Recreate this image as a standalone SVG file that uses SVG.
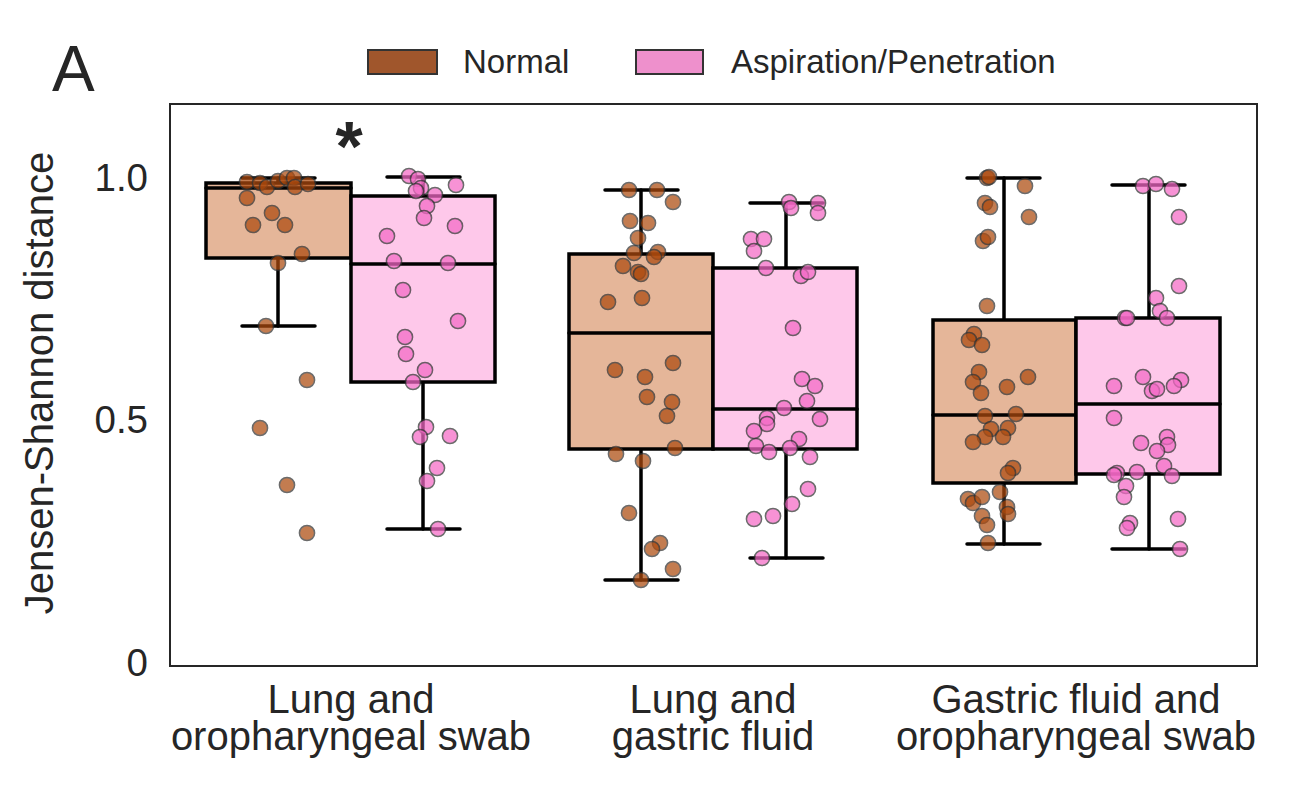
<svg xmlns="http://www.w3.org/2000/svg" width="1300" height="800" viewBox="0 0 1300 800">
<style>
text { font-family: "Liberation Sans", Arial, sans-serif; fill: #262626; }
.tick { font-size: 38.5px; }
.xl { font-size: 40px; text-anchor: middle; }
.leg { font-size: 33px; }
.bn { fill: #e5b699; stroke: #000; stroke-width: 3.5; }
.bp { fill: #fec8ea; stroke: #000; stroke-width: 3.5; }
.ln { stroke: #000; stroke-width: 3.5; stroke-linecap: round; fill: none; }
.dn circle { fill: #ad4a0e; stroke: #333; stroke-width: 1.5; opacity: 0.72; }
.dp circle { fill: #f469c6; stroke: #333; stroke-width: 1.5; opacity: 0.72; }
</style>
<rect x="0" y="0" width="1300" height="800" fill="#fff"/>
<text x="52" y="91" style="font-size:64px">A</text>
<g id="legend">
<rect x="368" y="50" width="69" height="24" fill="#a0562c" stroke="#333" stroke-width="2"/>
<text class="leg" x="463" y="73">Normal</text>
<rect x="636" y="50" width="67" height="24" fill="#ee90cc" stroke="#333" stroke-width="2"/>
<text class="leg" x="731" y="73">Aspiration/Penetration</text>
</g>
<g id="axes">
<rect x="170" y="104" width="1087" height="562" fill="none" stroke="#262626" stroke-width="2"/>
<text class="tick" x="148" y="191" text-anchor="end">1.0</text>
<text class="tick" x="148" y="433" text-anchor="end">0.5</text>
<text class="tick" x="148" y="676" text-anchor="end">0</text>
<text x="53" y="383" style="font-size:40px" text-anchor="middle" transform="rotate(-90 53 383)">Jensen-Shannon distance</text>
<text class="xl" x="351" y="713">Lung and</text>
<text class="xl" x="351" y="750">oropharyngeal swab</text>
<text class="xl" x="713" y="713">Lung and</text>
<text class="xl" x="713" y="750">gastric fluid</text>
<text class="xl" x="1076" y="713">Gastric fluid and</text>
<text class="xl" x="1076" y="750">oropharyngeal swab</text>
<text x="349" y="171" style="font-size:70px;font-weight:bold" text-anchor="middle">*</text>
</g>
<g id="box-g1-normal">
<line class="ln" x1="278" y1="178" x2="278" y2="183"/><line class="ln" x1="242" y1="178" x2="315" y2="178"/>
<line class="ln" x1="278" y1="258" x2="278" y2="326"/><line class="ln" x1="242" y1="326" x2="315" y2="326"/>
<rect class="bn" x="206" y="183" width="145" height="75"/>
<line class="ln" x1="206" y1="188" x2="351" y2="188"/>
</g>
<g id="box-g1-asp">
<line class="ln" x1="423" y1="177" x2="423" y2="196"/><line class="ln" x1="387" y1="177" x2="460" y2="177"/>
<line class="ln" x1="423" y1="382" x2="423" y2="529"/><line class="ln" x1="387" y1="529" x2="460" y2="529"/>
<rect class="bp" x="351" y="196" width="144" height="186"/>
<line class="ln" x1="351" y1="264" x2="495" y2="264"/>
</g>
<g id="box-g2-normal">
<line class="ln" x1="641" y1="190" x2="641" y2="254"/><line class="ln" x1="605" y1="190" x2="678" y2="190"/>
<line class="ln" x1="641" y1="449" x2="641" y2="580"/><line class="ln" x1="605" y1="580" x2="678" y2="580"/>
<rect class="bn" x="569" y="254" width="144" height="195"/>
<line class="ln" x1="569" y1="333" x2="713" y2="333"/>
</g>
<g id="box-g2-asp">
<line class="ln" x1="786" y1="203" x2="786" y2="268"/><line class="ln" x1="750" y1="203" x2="823" y2="203"/>
<line class="ln" x1="786" y1="449" x2="786" y2="558"/><line class="ln" x1="750" y1="558" x2="823" y2="558"/>
<rect class="bp" x="713" y="268" width="144" height="181"/>
<line class="ln" x1="713" y1="409" x2="857" y2="409"/>
</g>
<g id="box-g3-normal">
<line class="ln" x1="1004" y1="178" x2="1004" y2="320"/><line class="ln" x1="967" y1="178" x2="1040" y2="178"/>
<line class="ln" x1="1004" y1="483" x2="1004" y2="544"/><line class="ln" x1="967" y1="544" x2="1040" y2="544"/>
<rect class="bn" x="933" y="320" width="143" height="163"/>
<line class="ln" x1="933" y1="415" x2="1076" y2="415"/>
</g>
<g id="box-g3-asp">
<line class="ln" x1="1149" y1="185" x2="1149" y2="318"/><line class="ln" x1="1112" y1="185" x2="1185" y2="185"/>
<line class="ln" x1="1149" y1="474" x2="1149" y2="549"/><line class="ln" x1="1112" y1="549" x2="1185" y2="549"/>
<rect class="bp" x="1076" y="318" width="144" height="156"/>
<line class="ln" x1="1076" y1="404" x2="1220" y2="404"/>
</g>
<g id="dots-g1-normal" class="dn">
<circle cx="247" cy="182" r="7.6"/><circle cx="260" cy="183" r="7.6"/><circle cx="267" cy="187" r="7.6"/><circle cx="278" cy="181" r="7.6"/><circle cx="287" cy="178" r="7.6"/><circle cx="294" cy="178" r="7.6"/><circle cx="295" cy="187" r="7.6"/><circle cx="308" cy="184" r="7.6"/><circle cx="247" cy="198" r="7.6"/><circle cx="272" cy="213" r="7.6"/><circle cx="253" cy="225" r="7.6"/><circle cx="285" cy="225" r="7.6"/><circle cx="302" cy="254" r="7.6"/><circle cx="278" cy="263" r="7.6"/><circle cx="266" cy="326" r="7.6"/><circle cx="307" cy="380" r="7.6"/><circle cx="260" cy="428" r="7.6"/><circle cx="287" cy="485" r="7.6"/><circle cx="307" cy="533" r="7.6"/>
</g>
<g id="dots-g1-asp" class="dp">
<circle cx="409" cy="176" r="7.6"/><circle cx="418" cy="179" r="7.6"/><circle cx="421" cy="188" r="7.6"/><circle cx="416" cy="191" r="7.6"/><circle cx="456" cy="185" r="7.6"/><circle cx="435" cy="195" r="7.6"/><circle cx="427" cy="206" r="7.6"/><circle cx="424" cy="218" r="7.6"/><circle cx="387" cy="236" r="7.6"/><circle cx="455" cy="226" r="7.6"/><circle cx="394" cy="261" r="7.6"/><circle cx="448" cy="263" r="7.6"/><circle cx="403" cy="290" r="7.6"/><circle cx="458" cy="321" r="7.6"/><circle cx="405" cy="337" r="7.6"/><circle cx="406" cy="354" r="7.6"/><circle cx="425" cy="370" r="7.6"/><circle cx="413" cy="382" r="7.6"/><circle cx="426" cy="427" r="7.6"/><circle cx="420" cy="437" r="7.6"/><circle cx="450" cy="436" r="7.6"/><circle cx="437" cy="468" r="7.6"/><circle cx="427" cy="481" r="7.6"/><circle cx="438" cy="529" r="7.6"/>
</g>
<g id="dots-g2-normal" class="dn">
<circle cx="629" cy="190" r="7.6"/><circle cx="657" cy="190" r="7.6"/><circle cx="673" cy="202" r="7.6"/><circle cx="630" cy="221" r="7.6"/><circle cx="648" cy="223" r="7.6"/><circle cx="638" cy="238" r="7.6"/><circle cx="634" cy="253" r="7.6"/><circle cx="658" cy="252" r="7.6"/><circle cx="654" cy="257" r="7.6"/><circle cx="623" cy="266" r="7.6"/><circle cx="638" cy="272" r="7.6"/><circle cx="641" cy="274" r="7.6"/><circle cx="608" cy="302" r="7.6"/><circle cx="642" cy="298" r="7.6"/><circle cx="615" cy="370" r="7.6"/><circle cx="645" cy="377" r="7.6"/><circle cx="673" cy="363" r="7.6"/><circle cx="647" cy="397" r="7.6"/><circle cx="672" cy="402" r="7.6"/><circle cx="667" cy="416" r="7.6"/><circle cx="675" cy="448" r="7.6"/><circle cx="616" cy="454" r="7.6"/><circle cx="643" cy="461" r="7.6"/><circle cx="629" cy="513" r="7.6"/><circle cx="660" cy="543" r="7.6"/><circle cx="652" cy="549" r="7.6"/><circle cx="673" cy="569" r="7.6"/><circle cx="641" cy="580" r="7.6"/>
</g>
<g id="dots-g2-asp" class="dp">
<circle cx="789" cy="202" r="7.6"/><circle cx="791" cy="208" r="7.6"/><circle cx="818" cy="203" r="7.6"/><circle cx="818" cy="213" r="7.6"/><circle cx="751" cy="239" r="7.6"/><circle cx="764" cy="239" r="7.6"/><circle cx="754" cy="251" r="7.6"/><circle cx="766" cy="268" r="7.6"/><circle cx="801" cy="276" r="7.6"/><circle cx="808" cy="272" r="7.6"/><circle cx="793" cy="328" r="7.6"/><circle cx="802" cy="379" r="7.6"/><circle cx="815" cy="386" r="7.6"/><circle cx="807" cy="401" r="7.6"/><circle cx="784" cy="408" r="7.6"/><circle cx="767" cy="418" r="7.6"/><circle cx="767" cy="424" r="7.6"/><circle cx="820" cy="419" r="7.6"/><circle cx="754" cy="431" r="7.6"/><circle cx="799" cy="439" r="7.6"/><circle cx="756" cy="446" r="7.6"/><circle cx="769" cy="452" r="7.6"/><circle cx="790" cy="448" r="7.6"/><circle cx="810" cy="457" r="7.6"/><circle cx="808" cy="489" r="7.6"/><circle cx="792" cy="504" r="7.6"/><circle cx="773" cy="516" r="7.6"/><circle cx="754" cy="519" r="7.6"/><circle cx="762" cy="558" r="7.6"/>
</g>
<g id="dots-g3-normal" class="dn">
<circle cx="987" cy="178" r="7.6"/><circle cx="989" cy="177" r="7.6"/><circle cx="1025" cy="186" r="7.6"/><circle cx="985" cy="203" r="7.6"/><circle cx="990" cy="207" r="7.6"/><circle cx="1029" cy="217" r="7.6"/><circle cx="983" cy="241" r="7.6"/><circle cx="988" cy="237" r="7.6"/><circle cx="987" cy="306" r="7.6"/><circle cx="974" cy="334" r="7.6"/><circle cx="969" cy="340" r="7.6"/><circle cx="982" cy="345" r="7.6"/><circle cx="979" cy="372" r="7.6"/><circle cx="973" cy="382" r="7.6"/><circle cx="981" cy="393" r="7.6"/><circle cx="1007" cy="387" r="7.6"/><circle cx="1028" cy="377" r="7.6"/><circle cx="985" cy="416" r="7.6"/><circle cx="1016" cy="414" r="7.6"/><circle cx="991" cy="429" r="7.6"/><circle cx="985" cy="437" r="7.6"/><circle cx="973" cy="442" r="7.6"/><circle cx="1008" cy="428" r="7.6"/><circle cx="1003" cy="437" r="7.6"/><circle cx="1013" cy="468" r="7.6"/><circle cx="1008" cy="473" r="7.6"/><circle cx="1000" cy="492" r="7.6"/><circle cx="968" cy="499" r="7.6"/><circle cx="973" cy="503" r="7.6"/><circle cx="982" cy="497" r="7.6"/><circle cx="1007" cy="507" r="7.6"/><circle cx="1008" cy="514" r="7.6"/><circle cx="982" cy="516" r="7.6"/><circle cx="987" cy="525" r="7.6"/><circle cx="988" cy="543" r="7.6"/>
</g>
<g id="dots-g3-asp" class="dp">
<circle cx="1143" cy="186" r="7.6"/><circle cx="1156" cy="184" r="7.6"/><circle cx="1172" cy="189" r="7.6"/><circle cx="1179" cy="217" r="7.6"/><circle cx="1179" cy="286" r="7.6"/><circle cx="1156" cy="298" r="7.6"/><circle cx="1160" cy="311" r="7.6"/><circle cx="1167" cy="318" r="7.6"/><circle cx="1125" cy="318" r="7.6"/><circle cx="1127" cy="318" r="7.6"/><circle cx="1143" cy="377" r="7.6"/><circle cx="1181" cy="380" r="7.6"/><circle cx="1114" cy="386" r="7.6"/><circle cx="1174" cy="386" r="7.6"/><circle cx="1152" cy="391" r="7.6"/><circle cx="1157" cy="389" r="7.6"/><circle cx="1114" cy="418" r="7.6"/><circle cx="1141" cy="443" r="7.6"/><circle cx="1167" cy="437" r="7.6"/><circle cx="1168" cy="445" r="7.6"/><circle cx="1157" cy="451" r="7.6"/><circle cx="1164" cy="466" r="7.6"/><circle cx="1172" cy="476" r="7.6"/><circle cx="1137" cy="472" r="7.6"/><circle cx="1117" cy="473" r="7.6"/><circle cx="1114" cy="475" r="7.6"/><circle cx="1126" cy="486" r="7.6"/><circle cx="1124" cy="497" r="7.6"/><circle cx="1178" cy="519" r="7.6"/><circle cx="1130" cy="523" r="7.6"/><circle cx="1127" cy="528" r="7.6"/><circle cx="1180" cy="549" r="7.6"/>
</g>
</svg>
